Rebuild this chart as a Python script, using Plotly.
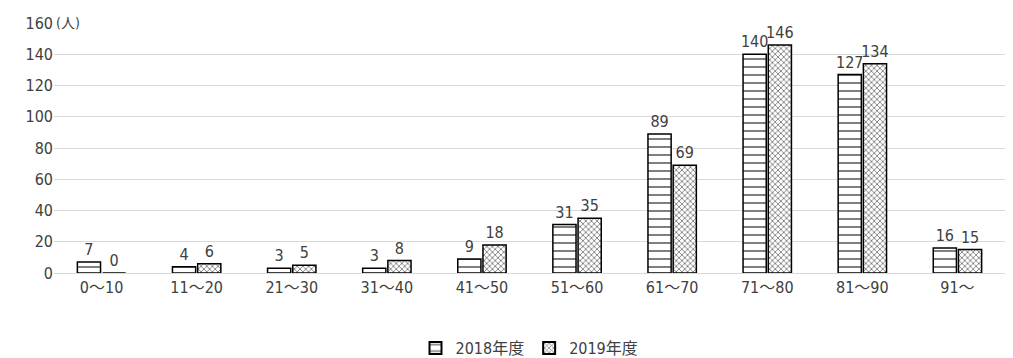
import plotly.graph_objects as go

categories = ["0～10", "11～20", "21～30", "31～40", "41～50", "51～60", "61～70", "71～80", "81～90", "91～"]
values_2018 = [7, 4, 3, 3, 9, 31, 89, 140, 127, 16]
values_2019 = [0, 6, 5, 8, 18, 35, 69, 146, 134, 15]
y_ticks = [0, 20, 40, 60, 80, 100, 120, 140, 160]

FONT = "DejaVu Sans Condensed, Noto Sans CJK JP"
GREY = "#404040"

fig = go.Figure()
fig.add_trace(go.Bar(
    name="2018年度", x=categories, y=values_2018,
    text=values_2018, textposition="outside", cliponaxis=False,
    textfont=dict(size=16, color=GREY, family=FONT),
    marker=dict(color="white", line=dict(color="black", width=1.5),
                pattern=dict(shape="-", fgcolor="black", bgcolor="white", size=8, solidity=0.25)),
))
fig.add_trace(go.Bar(
    name="2019年度", x=categories, y=values_2019,
    text=values_2019, textposition="outside", cliponaxis=False,
    textfont=dict(size=16, color=GREY, family=FONT),
    marker=dict(color="white", line=dict(color="black", width=1.5),
                pattern=dict(shape="x", fgcolor="black", bgcolor="white", size=4, solidity=0.4)),
))

fig.update_layout(
    width=1013, height=358,
    margin=dict(l=54, r=8, t=23, b=85, autoexpand=False),
    paper_bgcolor="white", plot_bgcolor="white",
    barmode="group", bargap=0.47, bargroupgap=0.08,
    font=dict(family=FONT, size=16, color=GREY),
    uniformtext=dict(minsize=16, mode="show"),
    showlegend=True,
    legend=dict(orientation="h", x=0.5, xanchor="center", y=-0.3, yanchor="middle",
                font=dict(size=16, color=GREY, family=FONT), itemwidth=30, traceorder="normal",
                tracegroupgap=0, itemsizing="constant"),
)
fig.update_xaxes(showgrid=False, showline=True, linecolor="#d9d9d9", linewidth=1,
                 ticks="", tickfont=dict(size=16, color=GREY))
fig.update_yaxes(range=[0, 160], tickvals=y_ticks, showgrid=True, gridcolor="#d9d9d9",
                 gridwidth=1, zeroline=False, showline=False, ticks="",
                 tickfont=dict(size=16, color=GREY))
fig.add_annotation(text="(人)", xref="paper", yref="y", x=0.0, y=160, xanchor="left",
                   yanchor="middle", showarrow=False, font=dict(size=14, color=GREY),
                   bgcolor="white")

fig.write_html("out.html")
